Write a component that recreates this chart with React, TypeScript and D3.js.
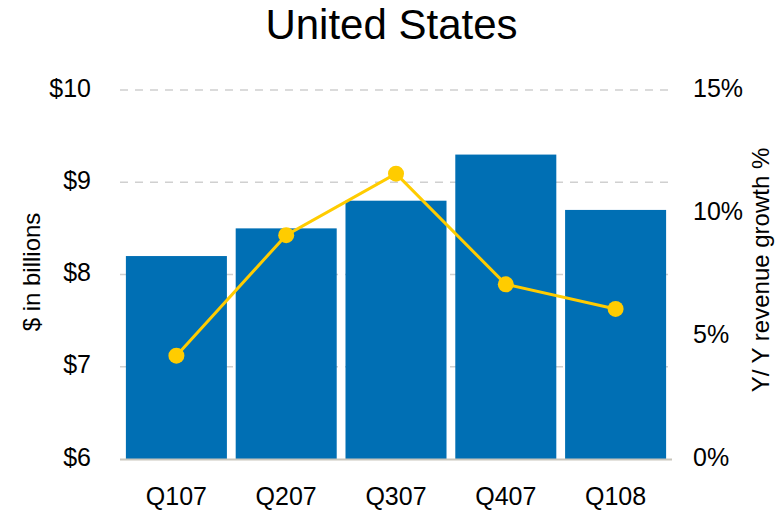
import React from "react";
import * as d3 from "d3";

const categories = ["Q107", "Q207", "Q307", "Q407", "Q108"];
const revenue = [8.2, 8.5, 8.8, 9.3, 8.7];
const growth = [4.2, 9.1, 11.6, 7.1, 6.1];
const leftTicks = [6, 7, 8, 9, 10];
const rightTicks = [0, 5, 10, 15];

const W = 782;
const H = 510;
const FONT = "'Liberation Sans', Arial, sans-serif";

export default function App() {
  const top = 90;
  const bottom = 459;
  const left = 121.5;
  const right = 670.5;

  const x = d3.scaleBand<string>().domain(categories).range([left, right]).paddingInner(0.08).paddingOuter(0.04);
  const yL = d3.scaleLinear().domain([6, 10]).range([bottom, top]);
  const yR = d3.scaleLinear().domain([0, 15]).range([bottom, top]);

  const line = d3
    .line<number>()
    .x((_, i) => (x(categories[i]) as number) + x.bandwidth() / 2)
    .y((d) => yR(d));

  return (
    <svg width={W} height={H} style={{ display: "block", position: "absolute", left: 0, top: 0 }} fontFamily={FONT}>
      <rect width={W} height={H} fill="#fff" />
      <text x={391.5} y={39} textAnchor="middle" fontSize={42} fill="#000">
        United States
      </text>
      {leftTicks.map((t) => (
        <g key={t}>
          {t !== 6 && (
            <line x1={120} x2={670} y1={yL(t)} y2={yL(t)} stroke="#d0d0d0" strokeWidth={1.3} strokeDasharray="8,7" />
          )}
          <text x={91} y={yL(t) + 6.5} textAnchor="end" fontSize={25} fill="#000">
            ${t}
          </text>
        </g>
      ))}
      {rightTicks.map((t) => (
        <text key={t} x={693} y={yR(t) + 6.5} textAnchor="start" fontSize={25} fill="#000">
          {t}%
        </text>
      ))}
      {categories.map((c, i) => (
        <rect key={c} x={x(c)} y={yL(revenue[i])} width={x.bandwidth()} height={bottom - yL(revenue[i])} fill="#006FB4" />
      ))}
      <line x1={120} x2={672} y1={bottom + 0.5} y2={bottom + 0.5} stroke="#c9c6bc" strokeWidth={2} />
      {categories.map((c) => (
        <text key={c} x={(x(c) as number) + x.bandwidth() / 2} y={505} textAnchor="middle" fontSize={25} fill="#000">
          {c}
        </text>
      ))}
      <path d={line(growth) || ""} fill="none" stroke="#FFCC00" strokeWidth={3} />
      {growth.map((g, i) => (
        <circle key={i} cx={(x(categories[i]) as number) + x.bandwidth() / 2} cy={yR(g)} r={8} fill="#FFCC00" />
      ))}
      <text transform={`translate(40,272) rotate(-90)`} textAnchor="middle" fontSize={24} fill="#000">
        $ in billions
      </text>
      <text transform={`translate(769,270) rotate(-90)`} textAnchor="middle" fontSize={24} fill="#000">
        Y/ Y revenue growth %
      </text>
    </svg>
  );
}
